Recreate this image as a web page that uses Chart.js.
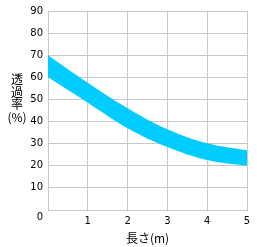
<!DOCTYPE html>
<html>
<head>
  <meta charset="UTF-8">
  <title>透過率</title>
  <script src="https://cdn.jsdelivr.net/npm/chart.js"></script>
  <style>
    body { margin: 0; padding: 0; background: #ffffff; }
    #wrap { position: relative; width: 257px; height: 247px; }
    #ytitle {
      position: absolute;
      left: 2px;
      top: 73px;
      width: 30px;
      text-align: center;
      font: 12px/12.5px "Noto Sans CJK JP", sans-serif;
      color: #000;
    }
  </style>
</head>
<body>
  <div id="wrap">
    <canvas id="chart" width="257" height="247"></canvas>
    <div id="ytitle"></div>
  </div>

  <script>
    // values
    const lengths = [0, 1, 2, 3, 4, 5];
    const upperRate = [70, 57.5, 46, 36.5, 30.2, 27];
    const lowerRate = [60, 48.5, 37, 28.5, 22.6, 20];
    const yTicks = [0, 10, 20, 30, 40, 50, 60, 70, 80, 90];
    const xTitle = '長さ(m)';
    const yTitleLines = ['透', '過', '率', '(%)'];

    const tickFont = { family: '"DejaVu Sans", sans-serif', size: 10 };
    const gridColor = '#c8c8c8';
    const bandColor = '#00ccff';

    // stacked y title as html text
    const yt = document.getElementById('ytitle');
    yTitleLines.forEach(s => {
      const d = document.createElement('div');
      d.textContent = s;
      yt.appendChild(d);
    });

    // origin "0" and x title drawn on the canvas
    const labelsPlugin = {
      id: 'labels',
      afterDraw(chart) {
        const ctx = chart.ctx;
        ctx.save();
        ctx.fillStyle = '#000';
        ctx.textAlign = 'center';
        ctx.textBaseline = 'middle';
        ctx.font = '10px "DejaVu Sans", sans-serif';
        ctx.fillText('0', 40, 217);
        ctx.font = '12px "Noto Sans CJK JP", sans-serif';
        const ca = chart.chartArea;
        ctx.fillText(xTitle, (ca.left + ca.right) / 2, 238);
        ctx.restore();
      }
    };

    new Chart(document.getElementById('chart'), {
      type: 'line',
      data: {
        datasets: [{
          data: lengths.map((x, i) => ({ x: x, y: upperRate[i] })),
          borderWidth: 0,
          borderColor: bandColor,
          backgroundColor: bandColor,
          pointRadius: 0,
          fill: '+1',
          tension: 0.4
        }, {
          data: lengths.map((x, i) => ({ x: x, y: lowerRate[i] })),
          borderWidth: 0,
          borderColor: bandColor,
          backgroundColor: bandColor,
          pointRadius: 0,
          fill: false,
          tension: 0.4
        }]
      },
      options: {
        responsive: false,
        animation: false,
        layout: { padding: { top: 11, right: 10, left: 0, bottom: 0 } },
        plugins: { legend: { display: false }, tooltip: { enabled: false } },
        scales: {
          x: {
            type: 'linear',
            min: 0,
            max: 5,
            grid: { color: gridColor, drawTicks: false },
            border: { color: gridColor },
            ticks: {
              stepSize: 1,
              padding: 5,
              color: '#000',
              font: tickFont,
              maxRotation: 0,
              callback: v => (v === 0 ? '' : v)
            },
            afterFit: s => { s.height = 37; }
          },
          y: {
            min: 0,
            max: 90,
            grid: { color: gridColor, drawTicks: false },
            border: { color: gridColor },
            afterBuildTicks: s => { s.ticks = yTicks.map(v => ({ value: v })); },
            ticks: {
              padding: 5,
              color: '#000',
              font: tickFont,
              callback: v => (v === 0 ? '' : v)
            },
            afterFit: s => { s.width = 48; }
          }
        }
      },
      plugins: [labelsPlugin]
    });
  </script>
</body>
</html>
